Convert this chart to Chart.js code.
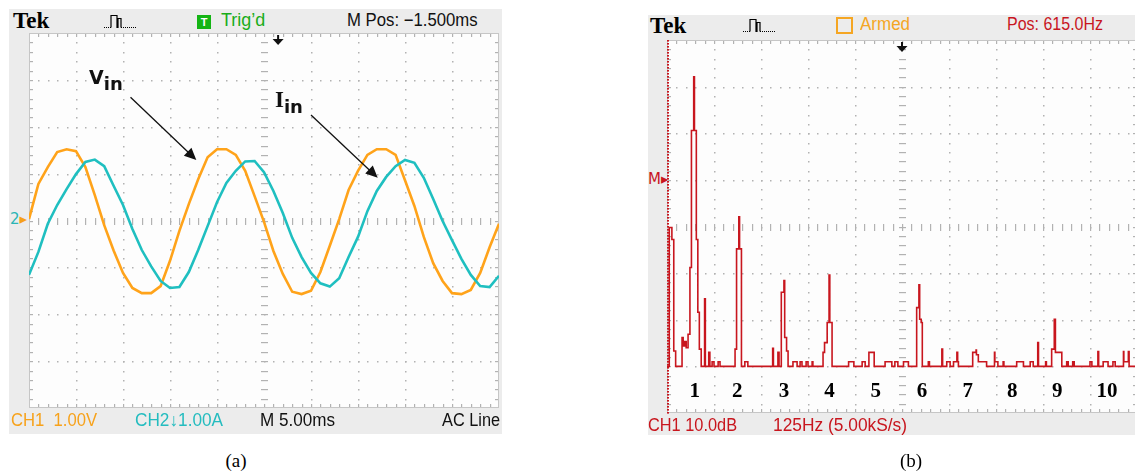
<!DOCTYPE html>
<html>
<head>
<meta charset="utf-8">
<script src="https://cdn.jsdelivr.net/npm/chart.js@4.4.0/dist/chart.umd.min.js"></script>
<style>
  html, body { margin: 0; padding: 0; background: #fff; }
  body { width: 1135px; height: 474px; position: relative; overflow: hidden; font-family: "Liberation Sans", Arial, sans-serif; }
  .frame { position: absolute; background: #ececec; }
  canvas { position: absolute; }
  .t { position: absolute; white-space: nowrap; font-size: 18px; line-height: 18px; transform-origin: left top; }
  .tek { position: absolute; font-family: "Liberation Serif", serif; font-weight: bold; font-size: 23px; line-height: 23px; }
  .cap { position: absolute; font-family: "Liberation Serif", serif; font-size: 19px; line-height: 19px; transform: translateX(-50%); }
  .harm { position: absolute; font-family: "Liberation Serif", serif; font-weight: bold; font-size: 21px; line-height: 21px; transform: translate(-50%, -50%); }
  .lbl { position: absolute; white-space: nowrap; font-family: "DejaVu Sans", sans-serif; font-weight: bold; font-size: 19px; line-height: 19px; color: #111; }
  .lbl .sub { position: relative; top: 6px; font-size: 18px; }
  .lbl .serif { font-family: "Liberation Serif", serif; font-size: 23px; }
  .mark { position: absolute; font-family: "DejaVu Sans", sans-serif; font-size: 15px; line-height: 15px; }
</style>
</head>
<body>

<!-- (a) time domain -->
<div class="frame" style="left:9px;top:9px;width:493px;height:425px"></div>
<div class="tek" style="left:13px;top:9px">Tek</div>
<svg style="position:absolute;left:103px;top:13px" width="36" height="16">
  <path d="M1 14.5 H8" stroke="#000" stroke-width="1" stroke-dasharray="1 1" fill="none"/>
  <path d="M8 14.5 V2.5 H14 V14.5 H15 V5.5 H18 V14.5" stroke="#000" stroke-width="1.2" fill="none"/>
  <path d="M18 14.5 H34" stroke="#000" stroke-width="1" stroke-dasharray="1 1" fill="none"/>
</svg>
<div style="position:absolute;left:197px;top:15px;width:14px;height:14px;background:#14b414;color:#fff;font:bold 11px/14px 'Liberation Sans',sans-serif;text-align:center">T</div>
<div class="t" data-w="44" style="left:221px;top:11px;color:#1aad1a">Trig’d</div>
<div class="t" data-w="131" style="left:347px;top:11px;color:#111">M Pos: −1.500ms</div>
<div class="mark" style="left:10px;top:212px"><span style="color:#2ab5b5">2</span><span style="color:#f5a01a">▸</span></div>

<canvas id="scopeA" width="478" height="383" style="left:25px;top:29px"></canvas>

<div class="lbl" style="left:89px;top:68px">V<span class="sub">in</span></div>
<div class="lbl" style="left:275px;top:90px"><span class="serif">I</span><span class="sub">in</span></div>

<div class="t" data-w="86" style="left:11px;top:411px;color:#f7a21b">CH1&nbsp;&nbsp;1.00V</div>
<div class="t" data-w="88" style="left:135px;top:411px;color:#24bcbf">CH2↓1.00A</div>
<div class="t" data-w="75" style="left:260px;top:411px;color:#111">M 5.00ms</div>
<div class="t" data-w="58" style="left:442px;top:411px;color:#111">AC Line</div>
<div class="cap" style="left:236px;top:451px">(a)</div>

<!-- (b) spectrum -->
<div class="frame" style="left:648px;top:15px;width:500px;height:420px"></div>
<div class="tek" style="left:650px;top:14px">Tek</div>
<svg style="position:absolute;left:742px;top:17px" width="36" height="16">
  <path d="M1 14.5 H8" stroke="#000" stroke-width="1" stroke-dasharray="1 1" fill="none"/>
  <path d="M8 14.5 V2.5 H14 V14.5 H15 V5.5 H18 V14.5" stroke="#000" stroke-width="1.2" fill="none"/>
  <path d="M18 14.5 H34" stroke="#000" stroke-width="1" stroke-dasharray="1 1" fill="none"/>
</svg>
<div style="position:absolute;left:836px;top:17px;width:13px;height:13px;border:2px solid #f5a623"></div>
<div class="t" data-w="50" style="left:860px;top:15px;color:#f5a623">Armed</div>
<div class="t" data-w="96" style="left:1007px;top:15px;color:#c8161e">Pos: 615.0Hz</div>
<div class="mark" style="left:648px;top:172px;color:#c8161e">M▸</div>

<canvas id="scopeB" width="478" height="381" style="left:663px;top:36px"></canvas>

<div class="t" data-w="89" style="left:648px;top:416px;color:#c8161e">CH1 10.0dB</div>
<div class="t" data-w="134" style="left:773px;top:416px;color:#c8161e">125Hz (5.00kS/s)</div>
<div class="cap" style="left:911px;top:451px">(b)</div>

<script>
// (a) input voltage and current, 5 ms/div, 1 unit/div
const timeMs = [0, 1, 2, 3, 4, 5, 6, 7, 8, 9,
  10, 11, 12, 13, 14, 15, 16, 17, 18, 19,
  20, 21, 22, 23, 24, 25, 26, 27, 28, 29,
  30, 31, 32, 33, 34, 35, 36, 37, 38, 39,
  40, 41, 42, 43, 44, 45, 46, 47, 48, 49, 50];
const vinVolts = [0.03, 0.78, 1.14, 1.46, 1.52, 1.48, 1.14, 0.54, -0.10, -0.64,
  -1.12, -1.44, -1.55, -1.55, -1.40, -0.86, -0.22, 0.35, 0.88, 1.35,
  1.52, 1.52, 1.40, 1.06, 0.52, -0.03, -0.65, -1.14, -1.52, -1.57,
  -1.50, -1.10, -0.54, 0.03, 0.65, 1.06, 1.40, 1.52, 1.52, 1.40,
  0.86, 0.31, -0.35, -0.91, -1.29, -1.55, -1.57, -1.48, -1.12, -0.57, -0.07];
const iinAmps = [-1.16, -0.67, -0.07, 0.33, 0.67, 0.99, 1.25, 1.30, 1.16, 0.74,
  0.33, -0.18, -0.63, -0.98, -1.29, -1.44, -1.42, -1.10, -0.63, -0.12,
  0.39, 0.80, 1.06, 1.26, 1.27, 1.03, 0.63, 0.16, -0.37, -0.78,
  -1.12, -1.34, -1.41, -1.23, -0.78, -0.35, 0.20, 0.63, 0.93, 1.16,
  1.29, 1.23, 0.91, 0.46, -0.01, -0.42, -0.82, -1.16, -1.40, -1.42, -1.18];

// (b) FFT of the input current, 125 Hz/div, 10 dB/div (stepped trace)
const fftFreqHz = [-10, -4, 3, 8, 13, 30, 33, 37, 41, 46,
  51, 55, 61, 63, 68, 72, 76, 81, 90, 92,
  101, 104, 110, 115, 126, 131, 171, 175, 181, 183,
  188, 197, 205, 271, 273, 285, 288, 294, 301, 303,
  308, 312, 325, 336, 344, 349, 360, 365, 376, 378,
  405, 409, 416, 421, 423, 429, 473, 487, 509, 517,
  527, 541, 570, 588, 596, 604, 619, 632, 654, 660,
  662, 666, 669, 685, 688, 721, 723, 734, 743, 752,
  761, 763, 765, 803, 812, 813, 818, 840, 861, 862,
  870, 884, 886, 920, 938, 956, 964, 976, 978, 997,
  999, 1013, 1020, 1023, 1040, 1053, 1057, 1069, 1073, 1115,
  1120, 1136, 1138, 1150, 1163, 1176, 1182, 1204, 1205, 1217,
  1219, 1240];
const fftLevelDb = [-40, -10.2, -12.8, -36.7, -40, -33.8, -35.6, -34.7, -36, -33.1,
  -18.8, 10.6, 22.1, 10.6, -12.8, -28.4, -36.3, -40, -25.5, -40,
  -37, -40, -39, -40, -39, -40, -36.3, -14.8, -7.9, -14.8,
  -40, -39, -40, -36.1, -40, -37, -40, -24.1, -21.6, -33.8,
  -36.7, -40, -39, -40, -39, -40, -39, -40, -39, -40,
  -37, -34.9, -30.6, -20.4, -30.6, -40, -39, -40, -39, -40,
  -37, -40, -39, -40, -39, -40, -39, -40, -27.4, -22.5,
  -29.9, -30.6, -40, -39, -40, -36.3, -40, -39, -40, -39,
  -37, -39, -40, -37, -36.5, -37.5, -39, -40, -37, -39,
  -40, -39, -40, -39, -40, -39, -40, -34.9, -40, -39,
  -40, -36.3, -29.9, -37, -40, -39, -40, -39, -40, -39,
  -40, -36.8, -40, -39, -40, -39, -40, -36.8, -39, -36.8,
  -40, -40];
const harmonicLabels = ['1', '2', '3', '4', '5', '6', '7', '8', '9', '10'];
const harmonicHz = [64, 177, 301, 422, 545, 668, 790, 908, 1028, 1160];
const harmonicDb = -45;

// callout arrows on (a): tail and head in (ms, div)
const arrowFrom = [[10.8, 2.63], [30.0, 2.25]];
const arrowTo = [[17.8, 1.29], [37.1, 0.91]];

// scope graticule: 10 x 8 divisions, dotted, ticked centre lines
const graticule = {
  id: 'graticule',
  beforeDatasetsDraw(chart, args, opts) {
    const { ctx } = chart;
    const xs = chart.scales.x, ys = chart.scales.y;
    const L = xs.getPixelForValue(xs.min), R = xs.getPixelForValue(xs.max);
    const T = ys.getPixelForValue(ys.max), B = ys.getPixelForValue(ys.min);
    const dx = (R - L) / 50, dy = (B - T) / 40;
    ctx.save();
    ctx.fillStyle = '#fdfdfd';
    ctx.fillRect(L, T, R - L, B - T);
    ctx.fillStyle = '#b2b2b2';
    for (let i = 5; i < 50; i += 5) {
      if (i === 25) continue;
      const x = Math.round(L + i * dx);
      for (let j = 1; j < 40; j++) ctx.fillRect(x, Math.round(T + j * dy), 1.5, 1.5);
    }
    for (let j = 5; j < 40; j += 5) {
      if (j === 20) continue;
      const y = Math.round(T + j * dy);
      for (let i = 1; i < 50; i++) ctx.fillRect(Math.round(L + i * dx), y, 1.5, 1.5);
    }
    const xc = Math.round(L + 25 * dx), yc = Math.round(T + 20 * dy);
    for (let j = 1; j < 40; j++) ctx.fillRect(xc - 3, Math.round(T + j * dy), 7, 1.2);
    for (let i = 1; i < 50; i++) ctx.fillRect(Math.round(L + i * dx), yc - 3, 1.2, 7);
    for (let i = 1; i < 50; i++) {
      ctx.fillRect(Math.round(L + i * dx), T, 1.2, 4);
      ctx.fillRect(Math.round(L + i * dx), B - 4, 1.2, 4);
    }
    for (let j = 1; j < 40; j++) {
      ctx.fillRect(L, Math.round(T + j * dy), 4, 1.2);
      ctx.fillRect(R - 4, Math.round(T + j * dy), 4, 1.2);
    }
    ctx.strokeStyle = '#c6c6c6';
    ctx.lineWidth = 1;
    ctx.strokeRect(L + 0.5, T + 0.5, R - L - 1, B - T - 1);
    if (opts.redLeft) {
      ctx.fillStyle = '#c8161e';
      for (let y = T; y < B; y += 3) ctx.fillRect(L, y, 2, 1.6);
    }
    // trigger / position marker
    const xt = xs.getPixelForValue(opts.trigger);
    ctx.fillStyle = '#111';
    ctx.fillRect(xt - 1, T + 2, 2, 5);
    ctx.beginPath();
    ctx.moveTo(xt - 5.5, T + 6);
    ctx.lineTo(xt + 5.5, T + 6);
    ctx.lineTo(xt, T + 12);
    ctx.closePath();
    ctx.fill();
    ctx.restore();
  }
};

const callouts = {
  id: 'callouts',
  afterDatasetsDraw(chart) {
    const { ctx } = chart;
    const xs = chart.scales.x, ys = chart.scales.y;
    ctx.save();
    ctx.strokeStyle = '#111';
    ctx.fillStyle = '#111';
    ctx.lineWidth = 1.3;
    arrowFrom.forEach((p, i) => {
      const x0 = xs.getPixelForValue(p[0]), y0 = ys.getPixelForValue(p[1]);
      const x1 = xs.getPixelForValue(arrowTo[i][0]), y1 = ys.getPixelForValue(arrowTo[i][1]);
      const a = Math.atan2(y1 - y0, x1 - x0), c = Math.cos(a), s = Math.sin(a);
      ctx.beginPath();
      ctx.moveTo(x0, y0);
      ctx.lineTo(x1 - 9 * c, y1 - 9 * s);
      ctx.stroke();
      ctx.beginPath();
      ctx.moveTo(x1, y1);
      ctx.lineTo(x1 - 12 * c + 5.5 * s, y1 - 12 * s - 5.5 * c);
      ctx.lineTo(x1 - 12 * c - 5.5 * s, y1 - 12 * s + 5.5 * c);
      ctx.closePath();
      ctx.fill();
    });
    ctx.restore();
  }
};

const baseOptions = (xMin, xMax, yMin, yMax, grat) => ({
  responsive: false,
  animation: false,
  devicePixelRatio: 1,
  events: [],
  layout: { padding: 4 },
  plugins: { legend: { display: false }, tooltip: { enabled: false }, graticule: grat },
  scales: {
    x: { type: 'linear', min: xMin, max: xMax, display: false },
    y: { type: 'linear', min: yMin, max: yMax, display: false }
  }
});

new Chart(document.getElementById('scopeA'), {
  type: 'line',
  data: {
    datasets: [
      { label: 'Iin', data: timeMs.map((t, i) => ({ x: t, y: iinAmps[i] })),
        borderColor: '#1fbfc0', borderWidth: 2.6, pointRadius: 0, tension: 0 },
      { label: 'Vin', data: timeMs.map((t, i) => ({ x: t, y: vinVolts[i] })),
        borderColor: '#ffa31a', borderWidth: 2.6, pointRadius: 0, tension: 0 }
    ]
  },
  options: baseOptions(0, 50, -4, 4, { trigger: 26.5 }),
  plugins: [graticule, callouts]
});

const scopeB = new Chart(document.getElementById('scopeB'), {
  type: 'line',
  data: {
    datasets: [
      { label: 'FFT', data: fftFreqHz.map((f, i) => ({ x: f, y: fftLevelDb[i] })),
        borderColor: '#c8161e', borderWidth: 1.6, pointRadius: 0, stepped: 'before' }
    ]
  },
  options: baseOptions(-10, 1240, -50, 30, { trigger: 615, redLeft: true }),
  plugins: [graticule]
});

// harmonic numbers under the spectrum lines
const canvasB = document.getElementById('scopeB');
harmonicLabels.forEach((txt, i) => {
  const el = document.createElement('div');
  el.className = 'harm';
  el.textContent = txt;
  el.style.left = (canvasB.offsetLeft + scopeB.scales.x.getPixelForValue(harmonicHz[i])) + 'px';
  el.style.top = (canvasB.offsetTop + scopeB.scales.y.getPixelForValue(harmonicDb)) + 'px';
  document.body.appendChild(el);
});

// squeeze the scope's readout text to its width on screen
document.querySelectorAll('.t[data-w]').forEach(el => {
  el.style.transform = 'scaleX(' + (Number(el.dataset.w) / el.offsetWidth) + ')';
});
</script>
</body>
</html>
